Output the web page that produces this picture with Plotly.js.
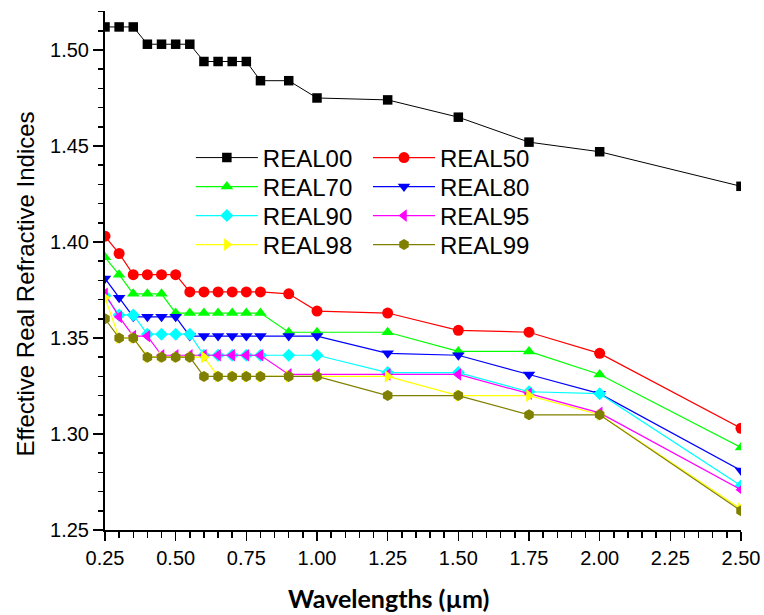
<!DOCTYPE html>
<html>
<head>
<meta charset="utf-8">
<script src="https://cdn.plot.ly/plotly-3.0.1.min.js"></script>
<style>
  html, body { margin: 0; padding: 0; background: #ffffff; }
  #chart { width: 764px; height: 615px; }
</style>
</head>
<body>
<div id="chart"></div>
<script>
// Wavelengths (µm) shared by every series
const wavelengths = [0.25, 0.30, 0.35, 0.40, 0.45, 0.50, 0.55, 0.60, 0.65, 0.70, 0.75, 0.80, 0.90, 1.00, 1.25, 1.50, 1.75, 2.00, 2.50];

// Effective real refractive index for each humidity case
const real00 = [1.512, 1.512, 1.512, 1.503, 1.503, 1.503, 1.503, 1.494, 1.494, 1.494, 1.494, 1.484, 1.484, 1.475, 1.474, 1.465, 1.452, 1.447, 1.429];
const real50 = [1.403, 1.394, 1.383, 1.383, 1.383, 1.383, 1.374, 1.374, 1.374, 1.374, 1.374, 1.374, 1.373, 1.364, 1.363, 1.354, 1.353, 1.342, 1.303];
const real70 = [1.392, 1.383, 1.373, 1.373, 1.373, 1.363, 1.363, 1.363, 1.363, 1.363, 1.363, 1.363, 1.353, 1.353, 1.353, 1.343, 1.343, 1.331, 1.293];
const real80 = [1.381, 1.371, 1.361, 1.361, 1.361, 1.361, 1.351, 1.351, 1.351, 1.351, 1.351, 1.351, 1.351, 1.351, 1.342, 1.341, 1.331, 1.321, 1.281];
const real90 = [1.372, 1.362, 1.362, 1.352, 1.352, 1.352, 1.352, 1.341, 1.341, 1.341, 1.341, 1.341, 1.341, 1.341, 1.332, 1.332, 1.322, 1.321, 1.273];
const real95 = [1.373, 1.361, 1.351, 1.351, 1.341, 1.341, 1.341, 1.341, 1.341, 1.341, 1.341, 1.341, 1.331, 1.331, 1.331, 1.331, 1.321, 1.311, 1.271];
const real98 = [1.371, 1.350, 1.350, 1.340, 1.340, 1.340, 1.340, 1.340, 1.330, 1.330, 1.330, 1.330, 1.330, 1.330, 1.330, 1.320, 1.320, 1.310, 1.261];
const real99 = [1.360, 1.350, 1.350, 1.340, 1.340, 1.340, 1.340, 1.330, 1.330, 1.330, 1.330, 1.330, 1.330, 1.330, 1.320, 1.320, 1.310, 1.310, 1.260];

const seriesNames = ["REAL00", "REAL50", "REAL70", "REAL80", "REAL90", "REAL95", "REAL98", "REAL99"];
const seriesValues = [real00, real50, real70, real80, real90, real95, real98, real99];
const seriesColors = ["#000000", "#ff0000", "#00ff00", "#0000ff", "#00ffff", "#ff00ff", "#ffff00", "#808000"];
const seriesSymbols = ["square", "circle", "triangle-up", "triangle-down", "diamond", "triangle-left", "triangle-right", "hexagon"];
const seriesSizes = [9.5, 11, 11, 11, 10, 11, 11, 11];

// Key laid out as two columns of four rows; each entry gets its own legend box
const legendCols = [0.135, 0.4135];
const legendRows = [0.7168, 0.6609, 0.605, 0.5491];
const legendIds = seriesNames.map((_, i) => (i === 0 ? "legend" : "legend" + (i + 1)));

const traces = seriesNames.map((name, i) => ({
  type: "scatter",
  mode: "lines+markers",
  name: name,
  x: wavelengths,
  y: seriesValues[i],
  legend: legendIds[i],
  line: { color: seriesColors[i], width: i === 0 ? 1 : 1.2 },
  marker: { symbol: seriesSymbols[i], size: seriesSizes[i], color: seriesColors[i], line: { width: 0 } },
  cliponaxis: true
}));

const legendFont = { family: "Liberation Sans, Arial, sans-serif", size: 24, color: "#000000" };

const layout = {
  width: 764,
  height: 615,
  margin: { l: 105, r: 23, t: 11, b: 85 },
  paper_bgcolor: "#ffffff",
  plot_bgcolor: "#ffffff",
  showlegend: true,
  xaxis: {
    range: [0.25, 2.5],
    tick0: 0.25,
    dtick: 0.25,
    tickformat: ".2f",
    ticks: "outside",
    ticklen: 9,
    tickwidth: 1.5,
    tickcolor: "#000000",
    minor: { dtick: 0.05, ticks: "outside", ticklen: 6, tickwidth: 1.5, tickcolor: "#000000", showgrid: false },
    showline: true,
    linecolor: "#000000",
    linewidth: 2,
    showgrid: false,
    zeroline: false,
    tickfont: { family: "Liberation Sans Narrow, Arial Narrow, Liberation Sans, sans-serif", size: 20, color: "#000000" }
  },
  yaxis: {
    range: [1.25, 1.5203],
    tick0: 1.25,
    dtick: 0.05,
    tickformat: ".2f",
    ticks: "outside",
    ticklen: 10,
    tickwidth: 1.5,
    tickcolor: "#000000",
    minor: { dtick: 0.01, ticks: "outside", ticklen: 5, tickwidth: 1.5, tickcolor: "#000000", showgrid: false },
    showline: true,
    linecolor: "#000000",
    linewidth: 2,
    showgrid: false,
    zeroline: false,
    tickfont: { family: "Liberation Sans, Arial, sans-serif", size: 20, color: "#000000" }
  },
  annotations: [
    {
      text: "Wavelengths (µm)",
      xref: "paper", yref: "paper",
      x: 0.445, y: -0.131, xanchor: "center", yanchor: "middle",
      showarrow: false,
      font: { family: "Lato, Open Sans, sans-serif", size: 25, color: "#000000", weight: "bold" }
    },
    {
      text: "Effective Real Refractive Indices",
      xref: "paper", yref: "paper",
      x: -0.1258, y: 0.475, xanchor: "center", yanchor: "middle",
      textangle: -90,
      showarrow: false,
      font: { family: "Liberation Sans, Arial, sans-serif", size: 24, color: "#000000" }
    }
  ]
};

legendIds.forEach((id, i) => {
  layout[id] = {
    x: legendCols[i % 2],
    y: legendRows[Math.floor(i / 2)],
    xanchor: "left",
    yanchor: "middle",
    bgcolor: "rgba(0,0,0,0)",
    borderwidth: 0,
    font: legendFont,
    itemwidth: 62,
    tracegroupgap: 0
  };
});

Plotly.newPlot("chart", traces, layout, { displayModeBar: false, staticPlot: true });
</script>
</body>
</html>
